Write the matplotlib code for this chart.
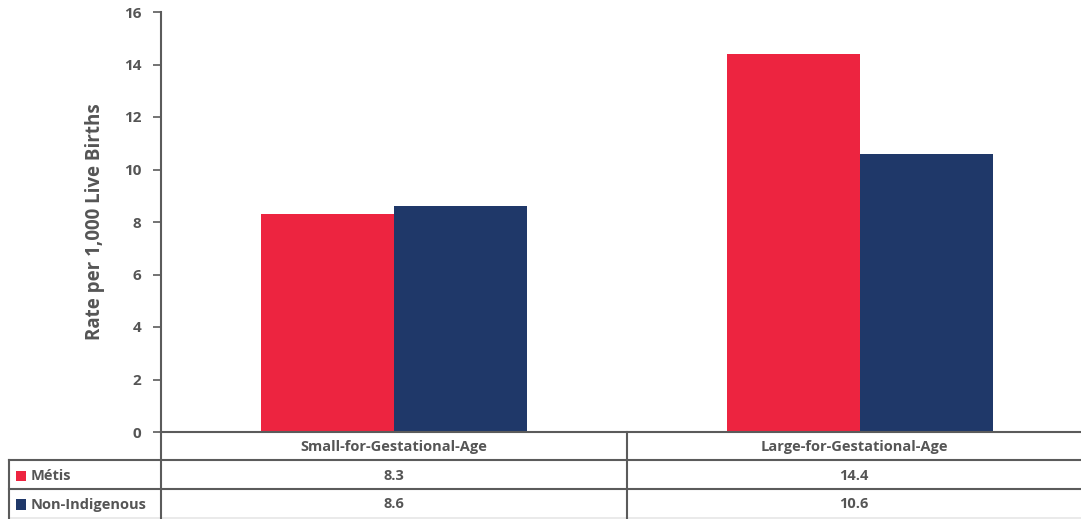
import matplotlib
matplotlib.use("Agg")
import matplotlib.pyplot as plt
from matplotlib.lines import Line2D
from matplotlib.patches import Rectangle

categories = ["Small-for-Gestational-Age", "Large-for-Gestational-Age"]
series_names = ["Métis", "Non-Indigenous"]
metis = [8.3, 14.4]
non_indigenous = [8.6, 10.6]
yticks = [0, 2, 4, 6, 8, 10, 12, 14, 16]

colors = ["#ED2440", "#1F3869"]
grey = "#5b5b5b"
text_grey = "#555555"

plt.rcParams["font.family"] = ["Open Sans", "DejaVu Sans"]

W, H = 1081, 519
fig = plt.figure(figsize=(W / 100, H / 100), dpi=100)


def fx(px):
    return px / W


def fy(py):
    return 1 - py / H


# plot area in pixels
left, right, top, bottom = 161, 1081, 12, 432
ax = fig.add_axes([fx(left), fy(bottom), fx(right - left), fy(top) - fy(bottom)])

x = [0, 1]
width = 0.285
ax.bar([i - width / 2 for i in x], metis, width, color=colors[0], linewidth=0)
ax.bar([i + width / 2 for i in x], non_indigenous, width, color=colors[1], linewidth=0)

ax.set_xlim(-0.5, 1.474)
ax.set_ylim(0, 16)
ax.set_yticks(yticks)
ax.set_yticklabels([str(t) for t in yticks], fontweight="bold", color=text_grey, fontsize=11)
ax.set_xticks([])
ax.tick_params(axis="y", direction="out", length=6, width=1.2, color=grey, pad=8)
for s in ["top", "right"]:
    ax.spines[s].set_visible(False)
ax.spines["left"].set_color(grey)
ax.spines["left"].set_linewidth(1.5)
ax.spines["bottom"].set_color(grey)
ax.spines["bottom"].set_linewidth(1.5)
ax.set_ylabel("Rate per 1,000 Live Births", fontweight="bold", color=text_grey,
              fontsize=13.5, labelpad=14)

# data table below the axes, drawn in figure pixels
rows_y = [432, 460, 489, 518]
col_x = [9, 161, 627, 1081]


def hline(y, x0, x1, color=grey, lw=1.5):
    fig.add_artist(Line2D([fx(x0), fx(x1)], [fy(y), fy(y)], color=color, lw=lw))


def vline(x0, y0, y1, color=grey, lw=1.5):
    fig.add_artist(Line2D([fx(x0), fx(x0)], [fy(y0), fy(y1)], color=color, lw=lw))


hline(rows_y[1], col_x[0], col_x[3])
hline(rows_y[2], col_x[0], col_x[3])
hline(rows_y[3], col_x[0], col_x[3], color="#e6e6e6", lw=1.2)
vline(col_x[0], rows_y[1], H)
vline(col_x[1], rows_y[0], H)
vline(col_x[2], rows_y[0], H)

table_fs = 10.5

# header row
for j, cat in enumerate(categories):
    cx = (col_x[j + 1] + col_x[j + 2]) / 2
    fig.text(fx(cx), fy((rows_y[0] + rows_y[1]) / 2 + 1), cat, ha="center", va="center",
             fontsize=table_fs, fontweight="bold", color=text_grey)

# value rows
for r, (name, vals) in enumerate(zip(series_names, [metis, non_indigenous])):
    yc = (rows_y[r + 1] + rows_y[r + 2]) / 2 + 1
    fig.add_artist(Rectangle((fx(16), fy(yc + 5)), fx(10), fy(yc - 5) - fy(yc + 5),
                             color=colors[r], lw=0))
    fig.text(fx(31), fy(yc), name, ha="left", va="center",
             fontsize=table_fs, fontweight="bold", color=text_grey)
    for j, v in enumerate(vals):
        cx = (col_x[j + 1] + col_x[j + 2]) / 2
        fig.text(fx(cx), fy(yc), f"{v:.1f}", ha="center", va="center",
                 fontsize=table_fs, fontweight="bold", color=text_grey)

fig.savefig("out.png", dpi=100)
